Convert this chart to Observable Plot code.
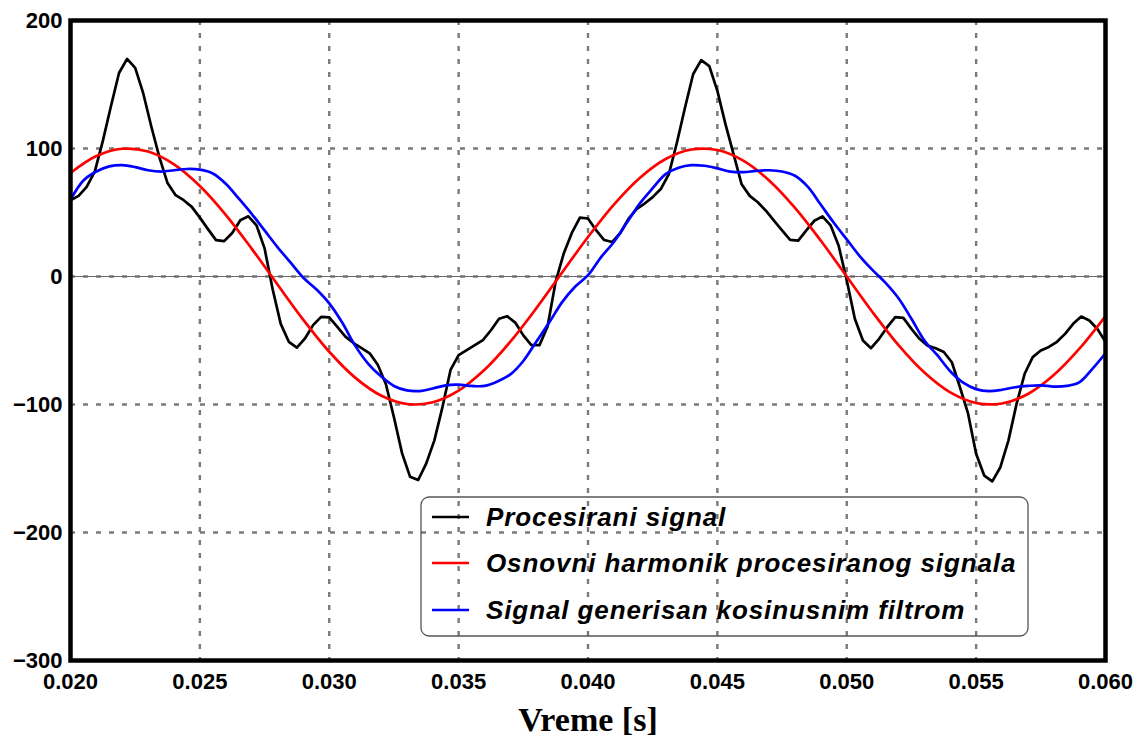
<!DOCTYPE html>
<html>
<head>
<meta charset="utf-8">
<script src="https://cdn.jsdelivr.net/npm/d3@7"></script>
<script src="https://cdn.jsdelivr.net/npm/@observablehq/plot@0.6"></script>
<style>
  body { margin: 0; background: #fff; }
  #chart svg { display: block; }
</style>
</head>
<body>
<div id="chart"></div>
<script>
// Processed signal: sampled at 3200 Hz starting at t = 0.020 s
const sampleRate = 3200;
const sampleStart = 0.02;
const processedValues = [
  59.6, 63, 70, 82, 106, 133, 159, 170, 163, 143,
  117, 93, 73, 63.5, 59.6, 54.4, 46, 37, 28.4, 27.6,
  34, 44, 47, 40, 22, -10, -37, -51, -55.5, -48.4,
  -38, -31.5, -32, -39.3, -47, -52, -56, -60, -69, -84,
  -110, -138, -156.5, -159, -146, -128, -102, -73, -61.5, -57.5,
  -53.6, -49.7, -42, -33, -31, -36, -46, -53.6, -53.6, -39,
  -4, 18, 34, 46, 45.3, 36.2, 28.5, 27, 34, 45,
  52.7, 57, 62, 68.3, 80, 104.7, 132, 158, 169, 164.4,
  145, 119, 95.6, 72, 63, 58, 51.4, 43.6, 36, 28.6,
  28, 36, 43.6, 47, 40, 24, -3, -33, -50, -56,
  -48.7, -39.6, -31.8, -32.3, -40.9, -48.7, -54, -56, -59, -67,
  -86.5, -107, -138.5, -155.5, -160, -149, -128, -99.5, -76, -63,
  -57.8, -55, -51, -44.8, -37, -31.3, -34.4, -41, -51
];

// Fundamental harmonic, every 1 ms from 0.020 s
const fundamentalStep = 0.001;
const fundamentalValues = [
  80.9, 94.1, 99.8, 97.6, 87.6, 70.7, 48.2, 21.8, -6.3, -33.9,
  -58.8, -79.0, -93.0, -99.6, -98.2, -89.1, -72.9, -50.9, -24.9, 3.1,
  30.9, 56.2, 77.0, 91.8, 99.2, 98.8, 90.5, 75.0, 53.6, 27.9,
  0, -27.9, -53.6, -75.0, -90.5, -98.8, -99.2, -91.8, -77.0, -56.2,
  -30.9
];

// Cosine-filter output, every 0.5 ms from 0.020 s
const filterStep = 0.0005;
const filterValues = [
  60, 75, 82, 86, 87, 85.5, 83, 82, 83, 84,
  83.5, 80.5, 72.5, 61, 49, 36, 23, 11, -1, -10,
  -21, -36, -54, -68, -78, -85.5, -89, -89.5, -87.5, -85,
  -84.5, -85.5, -85.5, -82, -76.5, -66, -51, -36, -20, -8,
  1, 15, 27, 42, 57, 69, 80, 85, 87, 86.5,
  84.5, 82, 81.5, 82.5, 83, 82, 78.7, 70, 56, 42,
  29, 16, 5, -5, -17, -33, -50, -61.5, -74, -83,
  -88, -89.6, -88.5, -86.5, -85.5, -85, -86, -85.5, -82.5, -72,
  -60
];

const xTicks = [0.020, 0.025, 0.030, 0.035, 0.040, 0.045, 0.050, 0.055, 0.060];
const yTicks = [-300, -200, -100, 0, 100, 200];

const seriesNames = [
  "Procesirani signal",
  "Osnovni harmonik procesiranog signala",
  "Signal generisan kosinusnim filtrom"
];
const seriesColors = ["#000000", "#ff0000", "#0000ff"];
const axisTitle = "Vreme [s]";

const processed = processedValues.map((v, i) => ({t: sampleStart + i / sampleRate, v}));
const fundamental = fundamentalValues.map((v, i) => ({t: 0.02 + i * fundamentalStep, v}));
const filtered = filterValues.map((v, i) => ({t: 0.02 + i * filterStep, v}));

const gridStyle = {stroke: "#7a7a7a", strokeOpacity: 1, strokeWidth: 2.4, strokeDasharray: "5,8"};
const fmtY = d => d < 0 ? "\u2212" + Math.abs(d) : String(d);

const plot = Plot.plot({
  width: 1136,
  height: 742,
  marginLeft: 70,
  marginRight: 31,
  marginTop: 20,
  marginBottom: 82,
  style: {fontFamily: "'Liberation Sans', Arial, sans-serif", background: "#fff", color: "#000"},
  x: {domain: [0.02, 0.06]},
  y: {domain: [-300, 200]},
  marks: [
    Plot.gridX(xTicks, gridStyle),
    Plot.gridY(yTicks, gridStyle),
    Plot.ruleY([0], {stroke: "#6a6a6a", strokeWidth: 1}),
    Plot.line(processed, {x: "t", y: "v", stroke: seriesColors[0], strokeWidth: 2.7, clip: true}),
    Plot.line(fundamental, {x: "t", y: "v", stroke: seriesColors[1], strokeWidth: 2.7, curve: "catmull-rom", clip: true}),
    Plot.line(filtered, {x: "t", y: "v", stroke: seriesColors[2], strokeWidth: 2.7, curve: "catmull-rom", clip: true}),
    Plot.frame({stroke: "#000", strokeWidth: 4.5}),
    Plot.axisY(yTicks, {tickSize: 0, tickPadding: 8, tickFormat: fmtY, fontSize: 22, fontWeight: "bold", label: null}),
    Plot.axisX(xTicks, {tickSize: 0, tickPadding: 13, tickFormat: d3.format(".3f"), fontSize: 22, fontWeight: "bold", label: null}),
    Plot.text([axisTitle], {frameAnchor: "bottom", dy: 70, fontFamily: "'Liberation Serif', 'Times New Roman', serif", fontWeight: "bold", fontSize: 34, fill: "#000"})
  ]
});

// Legend box drawn inside the plot area
const svg = d3.select(plot);
const lg = svg.append("g").attr("class", "legend").attr("text-anchor", "start");
lg.append("rect")
  .attr("x", 421).attr("y", 497).attr("width", 607).attr("height", 139)
  .attr("rx", 8).attr("fill", "none").attr("stroke", "#555").attr("stroke-width", 1.3);
const rowY = [517, 563, 610];
seriesNames.forEach((name, i) => {
  lg.append("line")
    .attr("x1", 432).attr("x2", 469).attr("y1", rowY[i]).attr("y2", rowY[i])
    .attr("stroke", seriesColors[i]).attr("stroke-width", 2.7);
  lg.append("text")
    .attr("x", 486).attr("y", rowY[i]).attr("dy", "0.36em")
    .attr("text-anchor", "start")
    .attr("font-family", "'Liberation Sans', Arial, sans-serif")
    .attr("font-size", 26).attr("font-weight", "bold").attr("font-style", "italic")
    .attr("letter-spacing", "0.9px")
    .attr("fill", "#000")
    .text(name);
});

document.getElementById("chart").appendChild(plot);
</script>
</body>
</html>
